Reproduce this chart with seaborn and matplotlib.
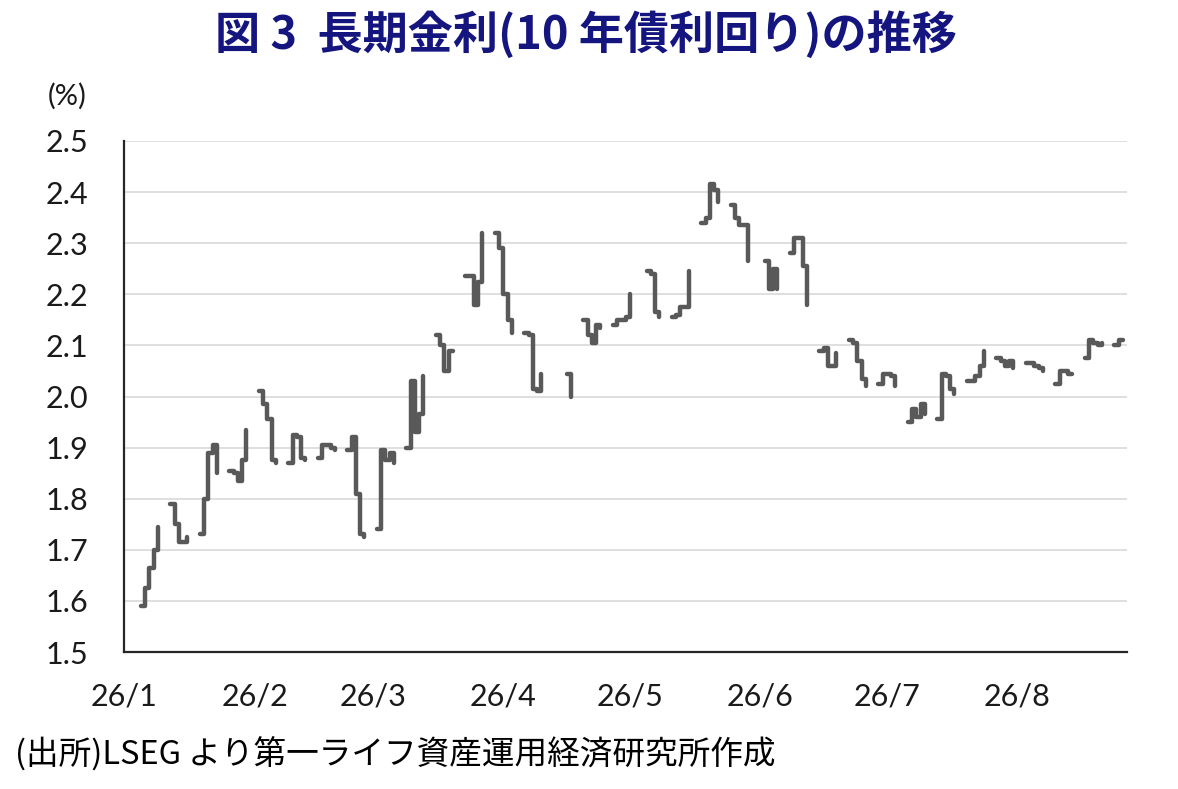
import numpy as np
import pandas as pd
import seaborn as sns
import matplotlib.pyplot as plt

# 10年債利回り (%), 営業日ごと (月〜金), nan = データなし
nan = np.nan
week_values = [
    [1.59, 1.625, 1.665, 1.70, 1.745],
    [1.79, 1.75, 1.715, 1.715, 1.725],
    [1.73, 1.80, 1.89, 1.905, 1.85],
    [1.855, 1.85, 1.835, 1.875, 1.935],
    [2.01, 1.985, 1.955, 1.875, 1.87],
    [1.87, 1.925, 1.92, 1.88, 1.875],
    [1.88, 1.905, 1.905, 1.90, 1.895],
    [1.895, 1.92, 1.81, 1.73, 1.725],
    [1.74, 1.895, 1.875, 1.89, 1.87],
    [1.90, 2.03, 1.93, 1.965, 2.04],
    [2.12, 2.10, 2.05, 2.09, 2.09],
    [2.235, 2.235, 2.18, 2.225, 2.32],
    [2.32, 2.29, 2.20, 2.15, 2.125],
    [2.125, 2.12, 2.015, 2.01, 2.045],
    [nan, nan, nan, 2.045, 2.00],
    [2.15, 2.12, 2.105, 2.14, 2.135],
    [2.14, 2.15, 2.15, 2.155, 2.20],
    [nan, 2.245, 2.24, 2.165, 2.155],
    [2.155, 2.16, 2.175, 2.175, 2.245],
    [2.34, 2.35, 2.415, 2.405, 2.38],
    [2.375, 2.35, 2.335, 2.335, 2.265],
    [nan, 2.265, 2.21, 2.25, 2.21],
    [2.28, 2.31, 2.31, 2.255, 2.18],
    [2.09, 2.095, 2.06, 2.06, 2.085],
    [2.11, 2.105, 2.07, 2.035, 2.02],
    [2.025, 2.045, 2.045, 2.04, 2.02],
    [1.95, 1.975, 1.96, 1.985, 1.965],
    [1.955, 2.045, 2.04, 2.015, 2.005],
    [2.03, 2.03, 2.04, 2.06, 2.09],
    [2.075, 2.07, 2.06, 2.07, 2.055],
    [2.065, 2.065, 2.06, 2.055, 2.05],
    [2.025, 2.05, 2.05, 2.045, 2.045],
    [2.075, 2.11, 2.105, 2.10, 2.105],
    [2.10, 2.11, 2.11],
]
first_day = "2026-01-05"
month_ticks = ["2026-01-01", "2026-02-01", "2026-03-01", "2026-04-01",
               "2026-05-01", "2026-06-01", "2026-07-01", "2026-08-01"]
tick_labels = ["26/1", "26/2", "26/3", "26/4", "26/5", "26/6", "26/7", "26/8"]
y_ticks = [1.5, 1.6, 1.7, 1.8, 1.9, 2.0, 2.1, 2.2, 2.3, 2.4, 2.5]

title = "図 3  長期金利(10 年債利回り)の推移"
source = "(出所)LSEG より第一ライフ資産運用経済研究所作成"

# 表にする
rows = []
for w, vals in enumerate(week_values):
    monday = pd.Timestamp(first_day) + pd.Timedelta(days=7 * w)
    for d, v in enumerate(vals):
        rows.append({"date": monday + pd.Timedelta(days=d), "yield": v, "week": w})
df = pd.DataFrame(rows).dropna()

sns.set_style("white")
plt.rcParams["font.family"] = ["Lato", "Noto Sans CJK JP", "DejaVu Sans"]

fig = plt.figure(figsize=(11.78, 7.89), dpi=100)
ax = fig.add_axes([124 / 1178, 1 - 652 / 789, (1127 - 124) / 1178, (652 - 141) / 789])

sns.lineplot(data=df, x="date", y="yield", units="week", estimator=None,
             color="#595959", linewidth=3.2, drawstyle="steps-post", ax=ax)

ax.set_ylim(1.5, 2.5)
ax.set_xlim(pd.Timestamp("2026-01-01"), pd.Timestamp("2026-08-27"))
ax.set_yticks(y_ticks)
ax.set_yticklabels([f"{t:.1f}" for t in y_ticks])
ax.set_xticks([pd.Timestamp(t) for t in month_ticks])
ax.set_xticklabels(tick_labels)
ax.set_xlabel("")
ax.set_ylabel("")

for t in y_ticks[1:]:
    ax.axhline(t, color="#d9d9d9", linewidth=1.2, zorder=0)

for s in ["top", "right"]:
    ax.spines[s].set_visible(False)
for s in ["left", "bottom"]:
    ax.spines[s].set_color("#262626")
    ax.spines[s].set_linewidth(1.6)

ax.tick_params(axis="y", length=0, pad=26, labelsize=22, labelcolor="#1a1a1a")
ax.tick_params(axis="x", direction="in", length=9, width=1.4, color="#262626",
               pad=22, labelsize=22, labelcolor="#1a1a1a")

fig.text(48 / 1178, 1 - 96 / 789, "(%)", fontsize=21, ha="left", va="center",
         color="#1a1a1a")
fig.text(0.497, 1 - 35 / 789, title, fontsize=32.5, fontweight="bold",
         color="#15157f", ha="center", va="center",
         family=["Noto Sans CJK JP", "DejaVu Sans"])
fig.text(15 / 1178, 1 - 755 / 789, source, fontsize=23.5, ha="left", va="center",
         color="black", family=["Noto Sans CJK JP", "DejaVu Sans"])

fig.savefig("out.png", dpi=100)
